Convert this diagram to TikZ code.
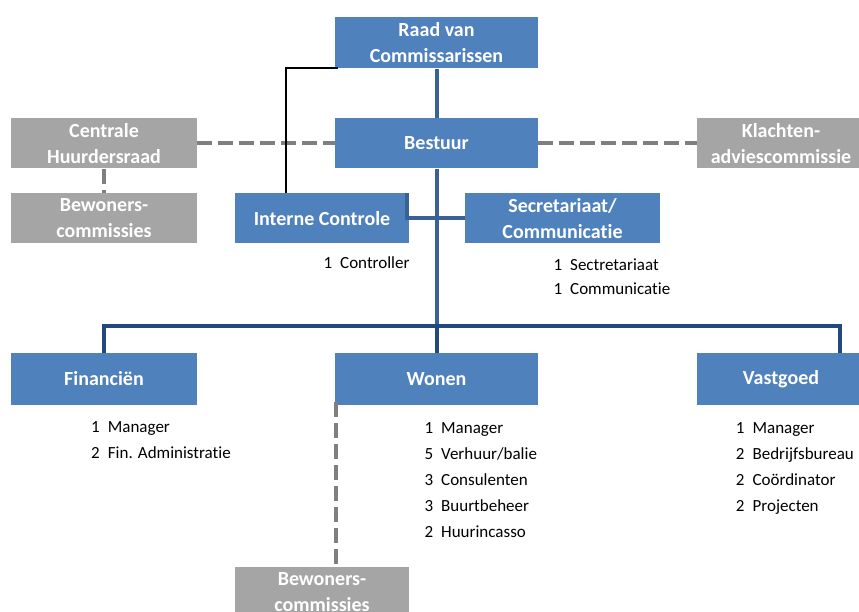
\documentclass[tikz,border=0pt]{standalone}
\usepackage{fontspec}
\setmainfont{Carlito}[Ligatures={NoCommon}]
\definecolor{boxblue}{HTML}{4F81BD}
\definecolor{boxgrey}{HTML}{A5A5A5}
\definecolor{trunkblue}{HTML}{3A6196}
\definecolor{busblue}{HTML}{22497E}
\definecolor{dashgrey}{HTML}{7F7F7F}
\newcommand{\staffline}[2]{\hbox{\hbox to 16.7pt{#1\hfil}#2}}
\newcommand{\stafflist}[2]{\vtop{\baselineskip=#1\lineskiplimit=-100pt\lineskip=0pt #2}}
\begin{document}
\begin{tikzpicture}[x=1pt,y=-1pt,
  box/.style={rectangle, inner sep=0pt, text=white,
    font=\fontsize{20}{26}\selectfont\bfseries, align=center},
  bluebox/.style={box, fill=boxblue},
  greybox/.style={box, fill=boxgrey},
  trunk/.style={draw=trunkblue, line width=4pt},
  bus/.style={draw=busblue, line width=4pt},
  rel/.style={draw=dashgrey, line width=4pt, dash pattern=on 15pt off 6pt},
  ctrl/.style={draw=black, line width=2pt},
  staff/.style={inner sep=0pt, anchor=base west, text=black,
    font=\fontsize{17}{26}\selectfont}
]
\useasboundingbox (0,0) rectangle (859,612);
\clip (0,0) rectangle (859,612);

% boxes
\node[bluebox, minimum width=203pt, minimum height=51.5pt] (raad) at (436.5,42.75) {Raad van\\Commissarissen};
\node[bluebox, minimum width=203pt, minimum height=50.5pt] (bestuur) at (436.5,143.25) {Bestuur};
\node[greybox, minimum width=186pt, minimum height=50.5pt] (chr) at (104,143.25) {Centrale\\Huurdersraad};
\node[greybox, minimum width=186pt, minimum height=50.5pt] (bewl) at (104,218.25) {Bewoners-\\commissies};
\node[bluebox, minimum width=174pt, minimum height=50.5pt] (ic) at (322,218.25) {Interne Controle};
\node[bluebox, minimum width=195pt, minimum height=50.5pt] (sec) at (562.5,218.25) {Secretariaat/\\Communicatie};
\node[greybox, minimum width=168pt, minimum height=50.5pt] (kac) at (781,143.25) {Klachten-\\adviescommissie};
\node[bluebox, minimum width=186pt, minimum height=52pt] (fin) at (104,379) {Financiën};
\node[bluebox, minimum width=203pt, minimum height=52pt] (wonen) at (436.5,379) {Wonen};
\node[bluebox, minimum width=168pt, minimum height=52pt] (vast) at (781,379) {Vastgoed};
\node[greybox, minimum width=174pt, minimum height=51pt] (bewb) at (322,592.5) {Bewoners-\\commissies};

% helper coordinates
\coordinate (busr) at (840,326);
\coordinate (ctrlx) at (286,193);

% connectors
\draw[trunk] (raad.south) -- (bestuur.north);
\draw[trunk] (bestuur.south) -- (bestuur.south |- busr);
\draw[trunk, line width=3.5pt] ([xshift=-2pt]ic.north east) |- (sec.west);
\draw[bus] (fin.north) |- (busr) -- (busr |- vast.north);
\draw[bus] (wonen.north |- busr) -- (wonen.north);
\draw[rel] (chr.east) -- (bestuur.west);
\draw[rel] (bestuur.east) -- (kac.west);
\draw[rel] (chr.south) -- (bewl.north);
\draw[rel] ([xshift=1.5pt,yshift=3pt]wonen.south west) -- ([xshift=1.5pt]wonen.south west |- bewb.north);
\draw[ctrl] ([yshift=1pt,xshift=3pt]raad.south west) -| (ctrlx);

% staff lists
\node[staff] (lic) at (323.3,269) {\stafflist{26pt}{\staffline{1}{Controller}}};
\node[staff] (lsec) at (553.3,271) {\stafflist{24pt}{\staffline{1}{Sectretariaat}\staffline{1}{Communicatie}}};
\node[staff] (lfin) at (91,432.7) {\stafflist{26pt}{\staffline{1}{Manager}\staffline{2}{Fin. Administratie}}};
\node[staff] (lwon) at (424.3,433) {\stafflist{26pt}{\staffline{1}{Manager}\staffline{5}{Verhuur/balie}\staffline{3}{Consulenten}\staffline{3}{Buurtbeheer}\staffline{2}{Huurincasso}}};
\node[staff] (lvas) at (735.7,433) {\stafflist{26pt}{\staffline{1}{Manager}\staffline{2}{Bedrijfsbureau}\staffline{2}{Coördinator}\staffline{2}{Projecten}}};
\end{tikzpicture}
\end{document}
